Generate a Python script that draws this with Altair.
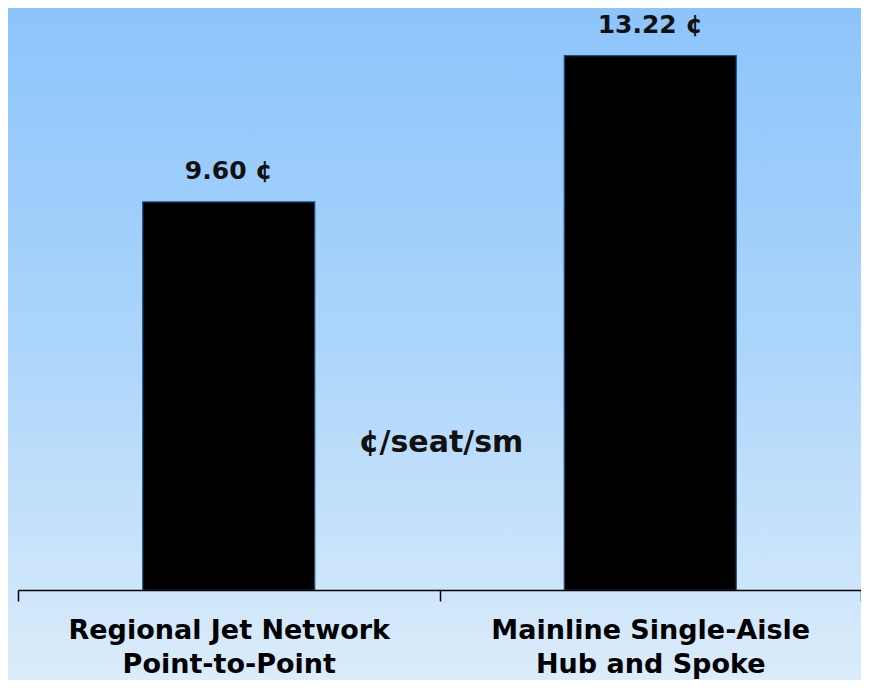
import altair as alt
import pandas as pd

categories = ["Regional Jet Network|Point-to-Point", "Mainline Single-Aisle|Hub and Spoke"]
values = [9.60, 13.22]
value_labels = ["9.60 ¢", "13.22 ¢"]
unit_label = "¢/seat/sm"

df = pd.DataFrame({"cat": categories, "val": values, "lab": value_labels})

W, H = 843, 566
FONT = "DejaVu Sans"

x_enc = alt.X(
    "cat:N",
    sort=categories,
    scale=alt.Scale(paddingInner=0, paddingOuter=0),
    axis=alt.Axis(
        title=None,
        labelExpr="split(datum.label, '|')",
        labelFont=FONT,
        labelFontSize=27,
        labelFontWeight="bold",
        labelColor="black",
        labelLineHeight=34,
        labelAngle=0,
        labelBaseline="top",
        labelPadding=16,
        labelLimit=0,
        tickSize=11,
        tickBand="extent",
        tickColor="black",
        tickWidth=1.5,
        domainColor="black",
        domainWidth=1.5,
        grid=False,
        zindex=1,
    ),
)
y_scale = alt.Scale(domain=[0, 14], nice=False, zero=True)

bg = alt.Chart(df).mark_rect(
    color=alt.LinearGradient(
        gradient="linear",
        stops=[
            alt.GradientStop(color="#8cc4fb", offset=0),
            alt.GradientStop(color="#acd5fb", offset=0.5),
            alt.GradientStop(color="#dbecfa", offset=1),
        ],
        x1=0, x2=0, y1=0, y2=1,
    )
).encode(
    x=alt.value(-10), x2=alt.value(W + 10), y=alt.value(-16), y2=alt.value(H + 90)
)

bars = alt.Chart(df).mark_bar(
    size=172, color="black", stroke="#1d4f80", strokeWidth=1.2
).encode(
    x=x_enc,
    y=alt.Y("val:Q", scale=y_scale, axis=None),
)

texts = alt.Chart(df).mark_text(
    font=FONT, fontSize=25, fontWeight="bold", color="#111111",
    baseline="alphabetic", align="center", dy=-23,
).encode(
    x=alt.X("cat:N", sort=categories),
    y=alt.Y("val:Q", scale=y_scale),
    text="lab:N",
)

unit = alt.Chart(pd.DataFrame({"t": [unit_label]})).mark_text(
    font=FONT, fontSize=30, fontWeight="bold", color="#111111",
    baseline="alphabetic", align="center",
).encode(
    x=alt.value(423), y=alt.value(428), text="t:N"
)

chart = alt.layer(bg, bars, texts, unit).properties(
    width=W, height=H,
    autosize=alt.AutoSizeParams(type="none"),
    padding={"left": 10, "right": 0, "top": 16, "bottom": 90},
    background="#dbecfa",
).configure_view(stroke=None)

chart.save("out.html", embed_options={"renderer": "svg", "actions": False})
